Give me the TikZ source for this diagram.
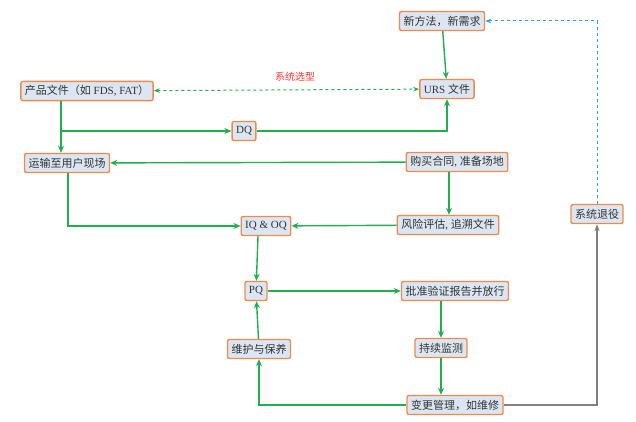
\documentclass[tikz,border=0pt]{standalone}
\usepackage{fontspec}
\setmainfont{Liberation Serif}
\newfontfamily\cjk{Noto Sans CJK SC}
\usetikzlibrary{arrows.meta}
\definecolor{gr}{HTML}{1DB04F}
\definecolor{bxf}{HTML}{DCE6F2}
\definecolor{bxd}{HTML}{F08A4B}
\definecolor{bl}{HTML}{2AA0E0}
\begin{document}
\begin{tikzpicture}[x=1pt,y=-1pt,
box/.style={draw=bxd,fill=bxf,line width=1.4pt,rounded corners=2pt,inner sep=4pt,minimum height=19pt,font=\fontsize{11}{13}\selectfont,text=black!80},
g/.style={draw=gr,line width=1.4pt,-{Stealth[length=7pt,width=6pt]}}]
\useasboundingbox (0,0) rectangle (636,422);
\node[box] (new) at (442,21) {\cjk 新方法，新需求};
\node[box] (urs) at (447,89) {URS {\cjk 文件}};
\node[box] (prod) at (87,91) {{\cjk 产品文件（如} FDS, FAT{\cjk ）}};
\node[box] (dq) at (244,131) {DQ};
\node[box] (trans) at (67,163) {\cjk 运输至用户现场};
\node[box] (buy) at (457,162) {{\cjk 购买合同}, {\cjk 准备场地}};
\node[box] (iq) at (266,226) {IQ \& OQ};
\node[box] (risk) at (448,225) {{\cjk 风险评估}, {\cjk 追溯文件}};
\node[box] (ret) at (597,214) {\cjk 系统退役};
\node[box] (pq) at (256,291) {PQ};
\node[box] (app) at (455,291) {\cjk 批准验证报告并放行};
\node[box] (mon) at (441,348) {\cjk 持续监测};
\node[box] (mnt) at (259,349) {\cjk 维护与保养};
\node[box] (chg) at (455,405) {\cjk 变更管理，如维修};
\node[text=red!80,font=\cjk\fontsize{10}{12}\selectfont] (lab) at (295,77) {系统选型};
\draw[g] (new) -- (urs);
\draw[draw=gr,line width=1pt,dashed,{Stealth[length=6pt]}-{Stealth[length=6pt]}] (prod) -- (urs);
\draw[g] (prod.south -| 61,0) -- (trans.north -| 61,0);
\coordinate (br) at (61,131);
\draw[g] (br) -- (dq);
\draw[g] (dq) -| (urs);
\draw[g] (buy) -- (trans);
\draw[g] (buy.south -| 449,0) -- (risk.north -| 449,0);
\draw[g] (trans.south -| 68,0) |- (iq);
\draw[g] (risk) -- (iq);
\draw[g] (iq.south -| 258,0) -- (pq);
\draw[g] (pq) -- (app);
\draw[g] (app.south -| 441,0) -- (mon);
\draw[g] (mon) -- (chg.north -| 441,0);
\draw[g] (chg) -| (mnt);
\draw[g] (mnt) -- (pq);
\draw[draw=gray,line width=1.5pt,-{Stealth[length=7pt]}] (chg) -| (ret);
\draw[draw=bl,line width=1pt,dashed,-{Stealth[length=6pt]}] (ret) |- (new);
\end{tikzpicture}
\end{document}
